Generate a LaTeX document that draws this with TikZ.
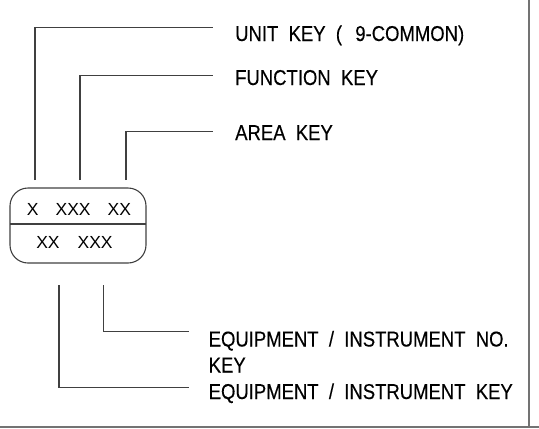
\documentclass[tikz,border=0pt]{standalone}
\usepackage{fontspec}
\setmainfont{Liberation Sans}
\newfontfamily\cadfont[FakeStretch=0.86,WordSpace=2,FakeBold=0.3]{Liberation Sans}
\begin{document}
\begin{tikzpicture}[x=1pt,y=-1pt,
  leader/.style={draw=black!75, line width=1.1pt},
  frameline/.style={draw=black!55, line width=1.6pt},
  lbl/.style={font=\cadfont\fontsize{21.5}{25}\selectfont, anchor=base west, inner sep=0pt},
  code/.style={font=\fontsize{17.5}{21}\selectfont, inner sep=0pt},
  tagbox/.style={draw=black!75, line width=1.1pt, rounded corners=18pt, minimum width=136pt, minimum height=75pt, inner sep=0pt}]
\useasboundingbox (0,0) rectangle (539,429);

% frame
\coordinate (ftop) at (529,0);
\coordinate (fcorner) at (529,427);
\coordinate (fleft) at (0,427);
\coordinate (fright) at (539,427);
\draw[frameline] (ftop) -- (fcorner);
\draw[frameline] (fleft) -- (fright);

% tag box
\node[tagbox] (box) at (78,225.5) {};
\coordinate (dl) at (10,224);
\coordinate (dr) at (146,224);
\draw[leader] (dl) -- (dr);
\node[code] (row1) at (79,209) {X\hspace{17pt}XXX\hspace{17pt}XX};
\node[code] (row2) at (74.5,242) {XX\hspace{18pt}XXX};

% labels
\node[lbl] (unit) at (235,41) {UNIT KEY (\hspace{3pt} 9-COMMON)};
\node[lbl] (func) at (235,85) {FUNCTION KEY};
\node[lbl] (area) at (235,140) {AREA KEY};
\node[lbl] (eqno) at (208.5,346.5) {EQUIPMENT / INSTRUMENT NO.};
\node[lbl] (eqnokey) at (208.5,372.5) {KEY};
\node[lbl] (eqkey) at (208.5,399) {EQUIPMENT / INSTRUMENT KEY};

% upper leaders
\coordinate (u0) at (35,180);
\coordinate (u1) at (212.5,27.5);
\coordinate (f0) at (80,180);
\coordinate (f1) at (212.5,75.5);
\coordinate (a0) at (126,180);
\coordinate (a1) at (212.5,131.5);
\draw[leader] (u0) |- (u1);
\draw[leader] (f0) |- (f1);
\draw[leader] (a0) |- (a1);

% lower leaders
\coordinate (n0) at (103.3,285);
\coordinate (n1) at (189.3,331.7);
\coordinate (k0) at (59,285);
\coordinate (k1) at (189.3,387.7);
\draw[leader] (n0) |- (n1);
\draw[leader] (k0) |- (k1);
\end{tikzpicture}
\end{document}
